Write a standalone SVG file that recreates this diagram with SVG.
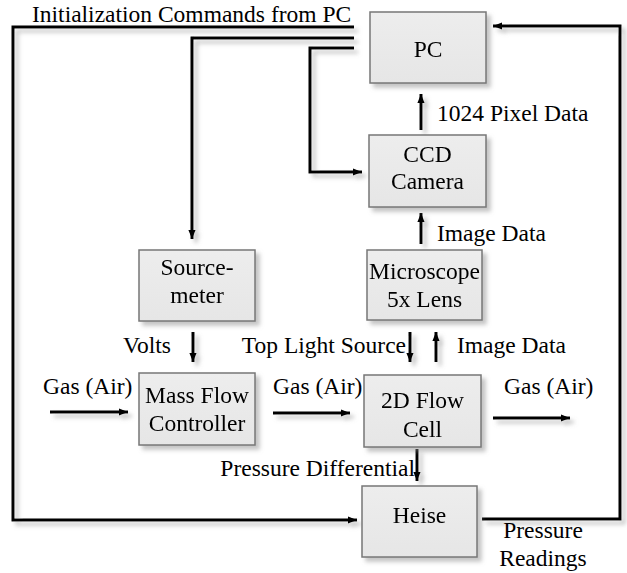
<svg xmlns="http://www.w3.org/2000/svg" width="627" height="573" viewBox="0 0 627 573">
<defs>
<filter id="sh" x="-20%" y="-20%" width="140%" height="140%">
<feDropShadow dx="4" dy="4" stdDeviation="2" flood-color="#888" flood-opacity="0.5"/>
</filter>
<marker id="ah" viewBox="0 0 10 10" markerWidth="9" markerHeight="9" refX="10" refY="5" orient="auto" markerUnits="userSpaceOnUse">
<path d="M0,1 L10,5 L0,9 z" fill="#000"/>
</marker>
<linearGradient id="bg" x1="0" y1="0" x2="0" y2="1">
<stop offset="0" stop-color="#ededed"/>
<stop offset="1" stop-color="#e6e6e6"/>
</linearGradient>
</defs>
<style>
text{font-family:"Liberation Serif","Times New Roman",serif;font-size:23.5px;fill:#000}
.m{text-anchor:middle}
.e{text-anchor:end}
.box{fill:url(#bg);stroke:#777;stroke-width:1.5}
.c{fill:none;stroke:#000;stroke-width:3}
.a{marker-end:url(#ah)}
</style>
<rect width="627" height="573" fill="#fff"/>
<g id="connectors" filter="url(#sh)">
<path class="c a" d="M354,27 H13 V520 H357"/>
<path class="c a" d="M354,38 H192 V239"/>
<path class="c a" d="M354,48 H310 V172 H362"/>
<path class="c a" d="M482,519 H620 V26 H493"/>
<path class="c a" d="M421,130 V94"/>
<path class="c a" d="M421,244 V213"/>
<path class="c a" d="M193,332 V362"/>
<path class="c a" d="M410,332 V362"/>
<path class="c a" d="M436,362 V332"/>
<path class="c a" d="M50,412 H128"/>
<path class="c a" d="M273,413 H350"/>
<path class="c a" d="M493,418 H570"/>
<path class="c a" d="M417,449 V481"/>
</g>
<g id="labels">
<text x="32" y="22">Initialization Commands from PC</text>
<text x="437" y="121">1024 Pixel Data</text>
<text x="437" y="241">Image Data</text>
<text x="123" y="353">Volts</text>
<text class="e" x="406" y="353">Top Light Source</text>
<text x="457" y="353">Image Data</text>
<text x="43" y="394">Gas (Air)</text>
<text x="273" y="394">Gas (Air)</text>
<text x="504" y="394">Gas (Air)</text>
<text class="e" x="415" y="476">Pressure Differential</text>
<text class="m" x="543" y="538">Pressure</text>
<text class="m" x="543" y="566">Readings</text>
</g>
<g id="pc" filter="url(#sh)">
<rect class="box" x="370" y="12" width="116" height="71"/>
<text class="m" x="428" y="57">PC</text>
</g>
<g id="ccd" filter="url(#sh)">
<rect class="box" x="369" y="135" width="117" height="72"/>
<text class="m" x="427.5" y="162">CCD</text>
<text class="m" x="427.5" y="189">Camera</text>
</g>
<g id="sourcemeter" filter="url(#sh)">
<rect class="box" x="139" y="250" width="116" height="71"/>
<text class="m" x="197" y="275">Source-</text>
<text class="m" x="197" y="303">meter</text>
</g>
<g id="microscope" filter="url(#sh)">
<rect class="box" x="367" y="250" width="115" height="70"/>
<text class="m" x="424.5" y="279">Microscope</text>
<text class="m" x="424.5" y="307">5x Lens</text>
</g>
<g id="mfc" filter="url(#sh)">
<rect class="box" x="139" y="373" width="116" height="72"/>
<text class="m" x="197" y="403">Mass Flow</text>
<text class="m" x="197" y="431">Controller</text>
</g>
<g id="flowcell" filter="url(#sh)">
<rect class="box" x="364" y="375" width="117" height="72"/>
<text class="m" x="422.5" y="408">2D Flow</text>
<text class="m" x="422.5" y="437">Cell</text>
</g>
<g id="heise" filter="url(#sh)">
<rect class="box" x="362" y="486" width="115" height="71"/>
<text class="m" x="419.5" y="523">Heise</text>
</g>
</svg>
